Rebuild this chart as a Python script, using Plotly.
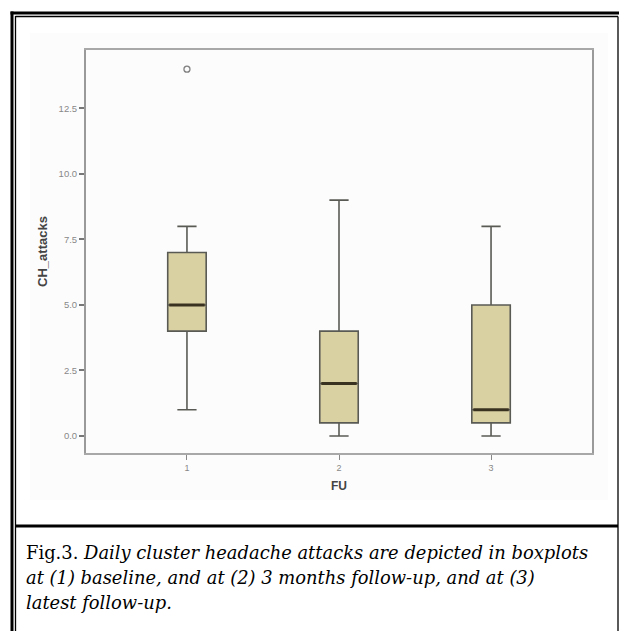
import plotly.graph_objects as go

# ---- data ----
fu_groups = [1, 2, 3]
lower_whisker = [1, 0, 0]
q1_values = [4, 0.5, 0.5]
median_values = [5, 2, 1]
q3_values = [7, 4, 5]
upper_whisker = [8, 9, 8]
outlier_group = [1]
outlier_values = [14]
y_tick_values = [0, 2.5, 5, 7.5, 10, 12.5]
y_tick_labels = ["0.0", "2.5", "5.0", "7.5", "10.0", "12.5"]
x_tick_labels = ["1", "2", "3"]

W, H = 619, 631
BOX_W = 0.253


def px(x):
    return x / W


def py(y):
    return 1 - y / H


fig = go.Figure()

fig.add_trace(go.Box(
    x=fu_groups,
    q1=q1_values, median=median_values, q3=q3_values,
    lowerfence=lower_whisker, upperfence=upper_whisker,
    width=BOX_W, whiskerwidth=0.5,
    fillcolor="#D9D1A2",
    line=dict(color="#5a5a55", width=1.6),
    boxpoints=False, showlegend=False, hoverinfo="skip",
))

# thicker dark median lines
mx, my = [], []
for g, m in zip(fu_groups, median_values):
    mx += [g - BOX_W / 2 + 0.01, g + BOX_W / 2 - 0.01, None]
    my += [m, m, None]
fig.add_trace(go.Scatter(x=mx, y=my, mode="lines",
                         line=dict(color="#3a3220", width=3),
                         showlegend=False, hoverinfo="skip"))

fig.add_trace(go.Scatter(x=outlier_group, y=outlier_values, mode="markers",
                         marker=dict(symbol="circle-open", size=6,
                                     color="#808080", line=dict(width=1.3)),
                         showlegend=False, hoverinfo="skip"))

shapes = []
# light chart panel
shapes.append(dict(type="rect", xref="paper", yref="paper",
                   x0=px(30), x1=px(608), y0=py(500), y1=py(33),
                   fillcolor="#FCFCFC", line=dict(width=0), layer="below"))
# outer frame: thick + thin
shapes.append(dict(type="line", xref="paper", yref="paper",
                   x0=px(12), x1=px(12), y0=0, y1=py(11.5), line=dict(color="black", width=3)))
shapes.append(dict(type="line", xref="paper", yref="paper",
                   x0=px(10.5), x1=1, y0=py(13), y1=py(13), line=dict(color="black", width=3)))
shapes.append(dict(type="line", xref="paper", yref="paper",
                   x0=px(15.5), x1=px(15.5), y0=0, y1=py(16), line=dict(color="black", width=1.3)))
shapes.append(dict(type="line", xref="paper", yref="paper",
                   x0=px(15.5), x1=px(618), y0=py(16.5), y1=py(16.5), line=dict(color="black", width=1.3)))
shapes.append(dict(type="line", xref="paper", yref="paper",
                   x0=px(618), x1=px(618), y0=0, y1=py(16.5), line=dict(color="black", width=1.3)))
# divider between chart and caption
shapes.append(dict(type="line", xref="paper", yref="paper",
                   x0=px(15.5), x1=px(618), y0=py(526), y1=py(526), line=dict(color="black", width=3)))

cap_font = dict(family="DejaVu Serif", size=17.9, color="#000000")
caption_lines = [
    "Fig.3. <i>Daily cluster headache attacks are depicted in boxplots</i>",
    "<i>at (1) baseline, and at (2) 3 months follow-up, and at (3)</i>",
    "<i>latest follow-up.</i>",
]
annotations = []
for i, t in enumerate(caption_lines):
    annotations.append(dict(text=t, xref="paper", yref="paper",
                            x=px(24), y=py(552 + 25 * i), xanchor="left", yanchor="middle",
                            showarrow=False, font=cap_font, align="left"))

fig.update_layout(
    width=W, height=H,
    margin=dict(l=0, r=0, t=0, b=0),
    paper_bgcolor="white",
    plot_bgcolor="#F1F1F1",
    shapes=shapes,
    annotations=annotations,
    xaxis=dict(
        domain=[px(86), px(592)],
        range=[0.336, 3.664],
        tickvals=fu_groups, ticktext=x_tick_labels,
        ticks="outside", ticklen=5, tickcolor="#888", tickwidth=1,
        tickfont=dict(family="Liberation Sans", size=9, color="#888"),
        showgrid=False, zeroline=False,
        showline=True, linecolor="#A8A8A8", linewidth=2, mirror=True,
        title=dict(text="<b>FU</b>", standoff=10,
                   font=dict(family="Liberation Sans", size=12, color="#444")),
    ),
    yaxis=dict(
        domain=[py(453), py(50)],
        range=[-0.65, 14.73],
        tickvals=y_tick_values, ticktext=y_tick_labels,
        ticks="outside", ticklen=5, tickcolor="#777", tickwidth=1.5,
        tickfont=dict(family="Liberation Sans", size=9.5, color="#888"),
        showgrid=False, zeroline=False,
        showline=True, linecolor="#9A9A9A", linewidth=2, mirror=True,
        title=dict(text="<b>CH_attacks</b>", standoff=8,
                   font=dict(family="Liberation Sans", size=13, color="#444")),
    ),
)

fig.write_html("out.html",
               config={"displayModeBar": False},
               post_script="document.body.style.margin='0';document.body.style.overflow='hidden';")
